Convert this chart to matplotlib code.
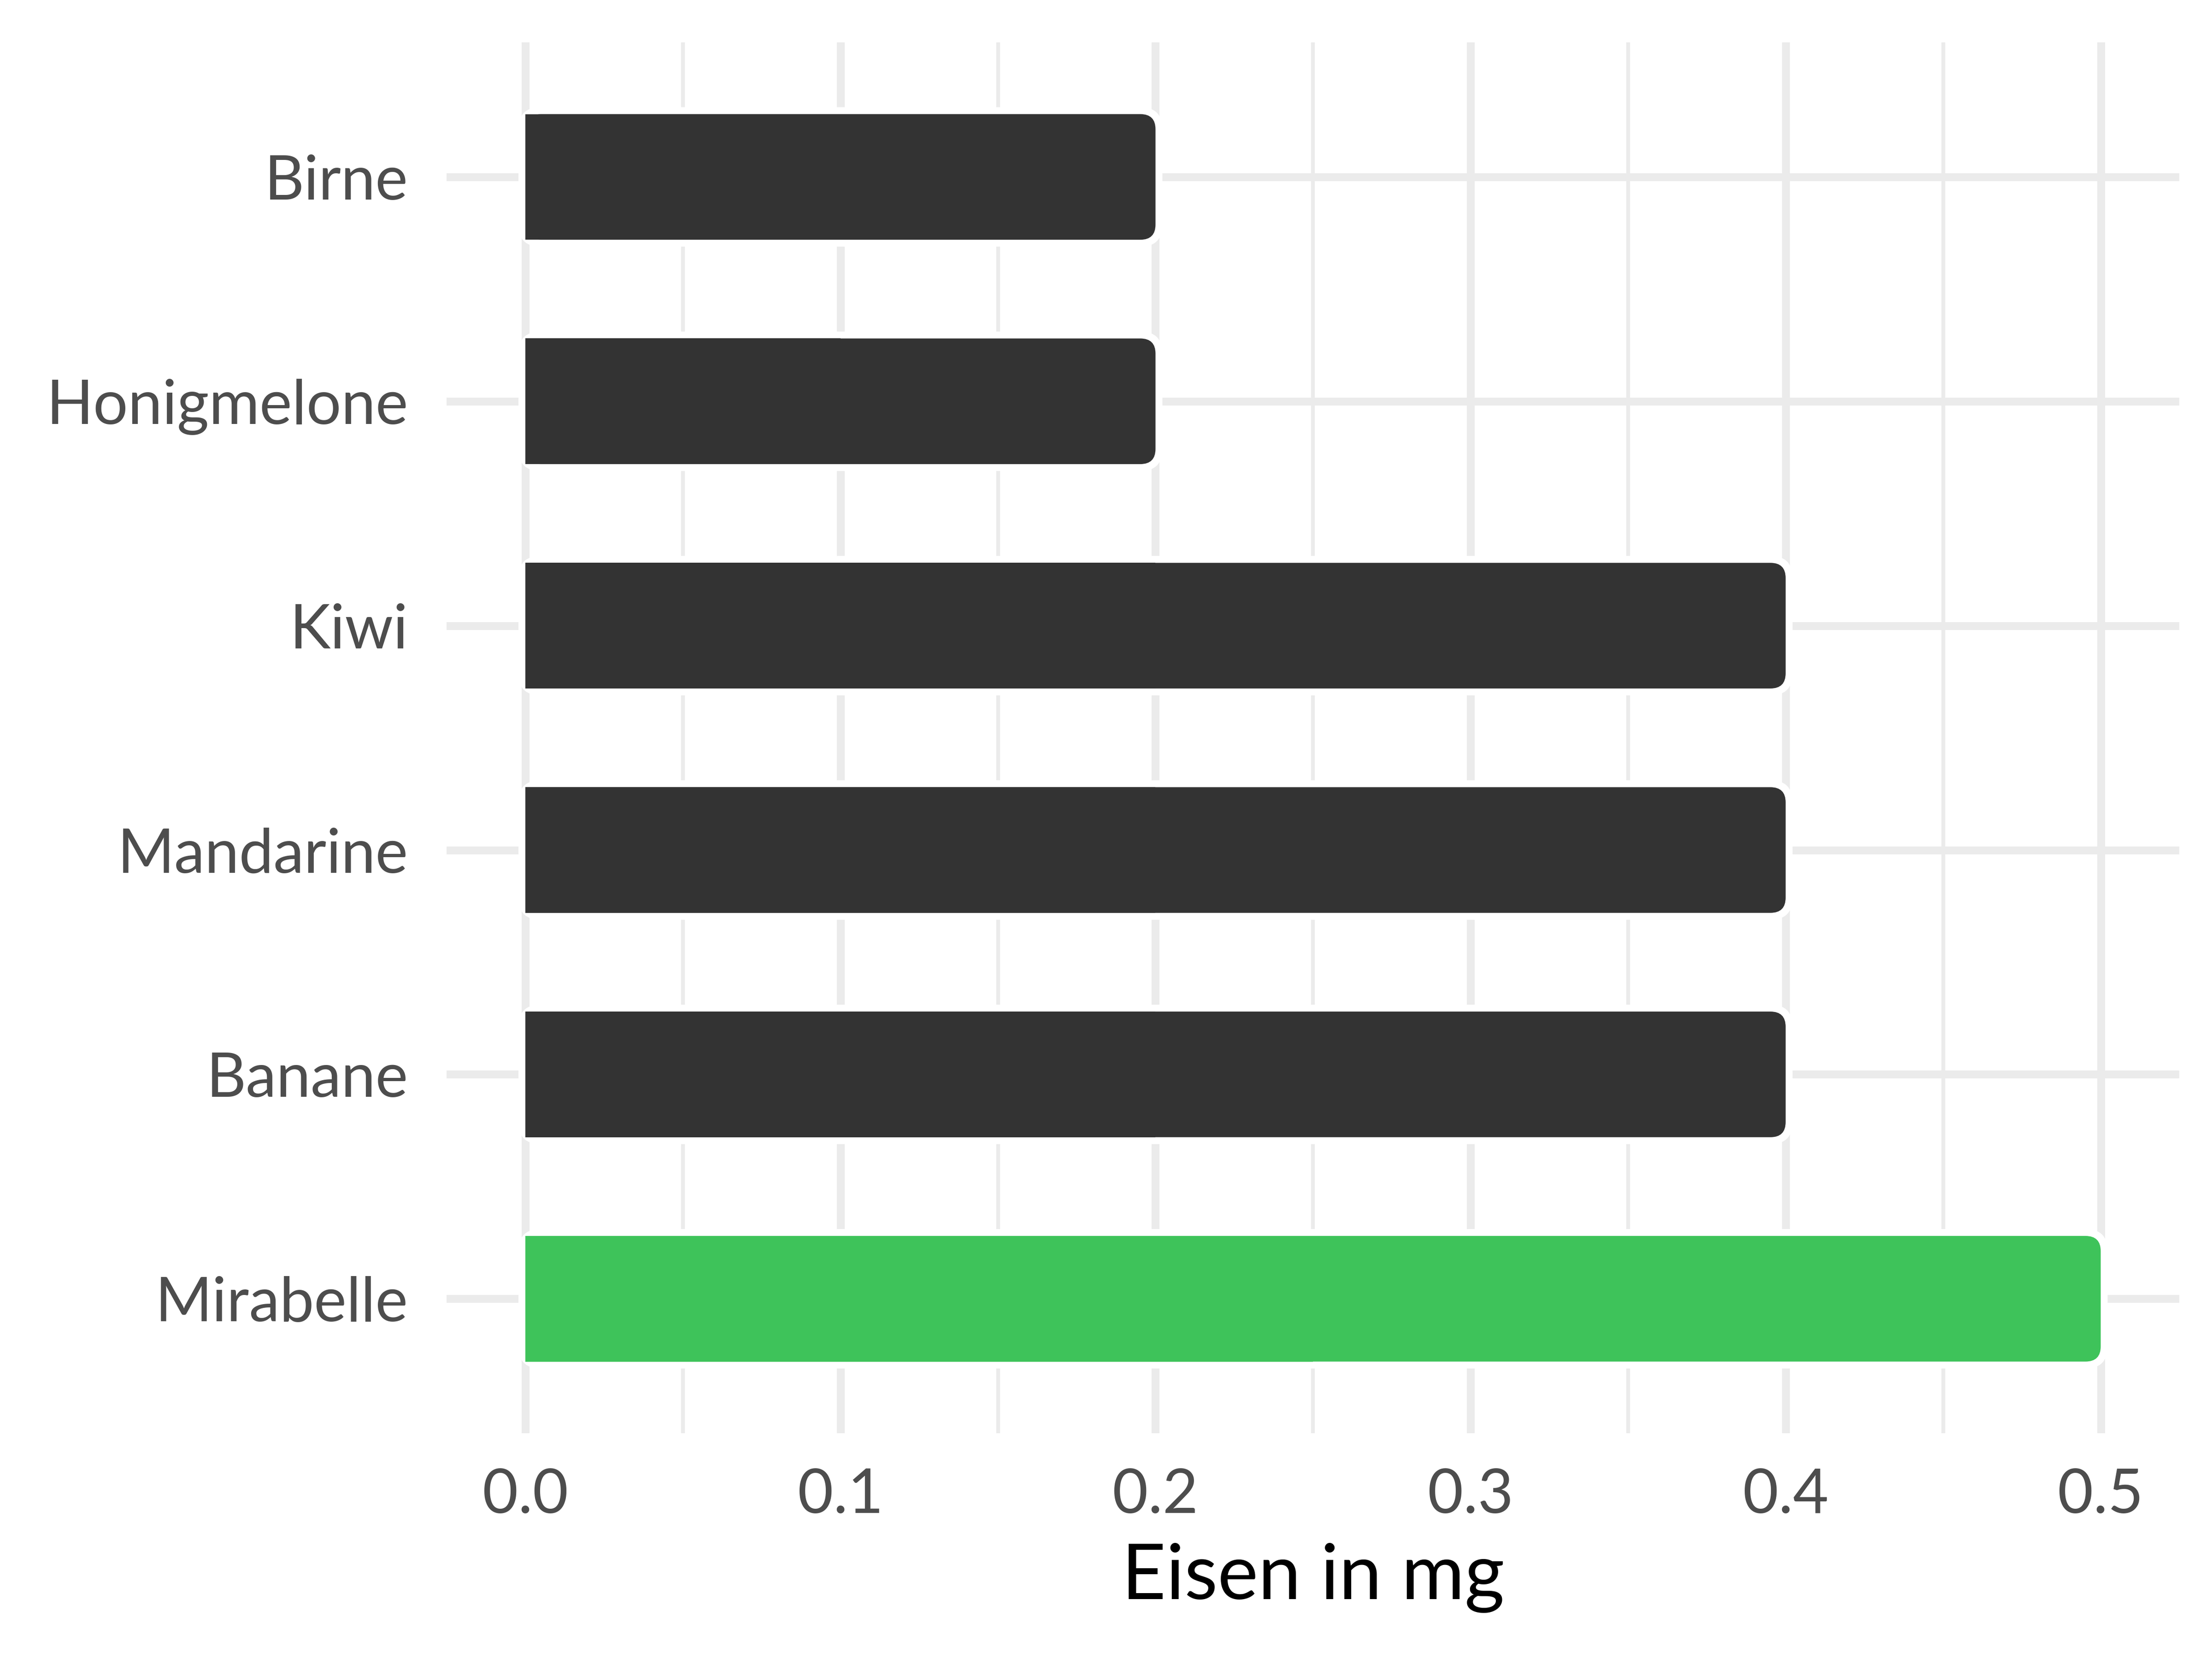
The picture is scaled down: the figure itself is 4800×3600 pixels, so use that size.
import matplotlib.pyplot as plt
from matplotlib.patches import FancyBboxPatch
import numpy as np

# Daten
fruits = ["Birne", "Honigmelone", "Kiwi", "Mandarine", "Banane", "Mirabelle"]
iron = [0.2, 0.2, 0.4, 0.4, 0.4, 0.5]
colors = ["#333333", "#333333", "#333333", "#333333", "#333333", "#3EC35A"]
xticks = [0.0, 0.1, 0.2, 0.3, 0.4, 0.5]
xminor = [0.05, 0.15, 0.25, 0.35, 0.45]

plt.rcParams['font.family'] = ['Lato', 'DejaVu Sans']

W, H, DPI = 16, 12, 300
fig = plt.figure(figsize=(W, H), dpi=DPI)
ax = fig.add_axes([0.2019, 0.136, 0.7834, 0.8385])

xlim = (-0.025, 0.525)
ylim = (len(fruits) - 0.4, -0.6)
ax.set_xlim(xlim)
ax.set_ylim(ylim)

# Pixelgroessen in Datenkoordinaten
pos = ax.get_position()
dx_px = (xlim[1] - xlim[0]) / (pos.width * W * DPI)
dy_px = abs(ylim[1] - ylim[0]) / (pos.height * H * DPI)
aspect = dy_px / dx_px

bar_h = 0.56
radius = 33 * dx_px
halo = 15 * dx_px

# Gitter
for x in xticks:
    ax.axvline(x, color="#EBEBEB", lw=4.1, zorder=0)
for x in xminor:
    ax.axvline(x, color="#EBEBEB", lw=2.0, zorder=0)
for i in range(len(fruits)):
    ax.axhline(i, color="#EBEBEB", lw=4.1, zorder=0)

# Balken mit runden Ecken und weissem Rand
ypos = np.arange(len(fruits))
for y, v, c in zip(ypos, iron, colors):
    white = FancyBboxPatch((0, y - bar_h / 2), v, bar_h,
                           boxstyle=f"round,pad={halo},rounding_size={radius + halo}",
                           mutation_aspect=aspect, fc="white", ec="none", zorder=1)
    ax.add_patch(white)
    bar = FancyBboxPatch((0, y - bar_h / 2), v, bar_h,
                         boxstyle=f"round,pad=0,rounding_size={radius}",
                         mutation_aspect=aspect, fc=c, ec="none", zorder=2)
    ax.add_patch(bar)
# linke Seite eckig
ax.barh(ypos, np.array(iron) / 2, height=bar_h, color=colors, zorder=3)

ax.set_yticks(ypos)
ax.set_yticklabels(fruits)
ax.set_xticks(xticks)
ax.set_xticklabels([f"{t:.1f}" for t in xticks])
ax.tick_params(axis='both', length=0, labelsize=32, labelcolor="#4D4D4D")
ax.tick_params(axis='y', pad=20)
ax.tick_params(axis='x', pad=18)

ax.set_xlabel("Eisen in mg", fontsize=40, color="black", labelpad=10)

for s in ax.spines.values():
    s.set_visible(False)

fig.savefig("out.png", dpi=DPI, facecolor="white")
